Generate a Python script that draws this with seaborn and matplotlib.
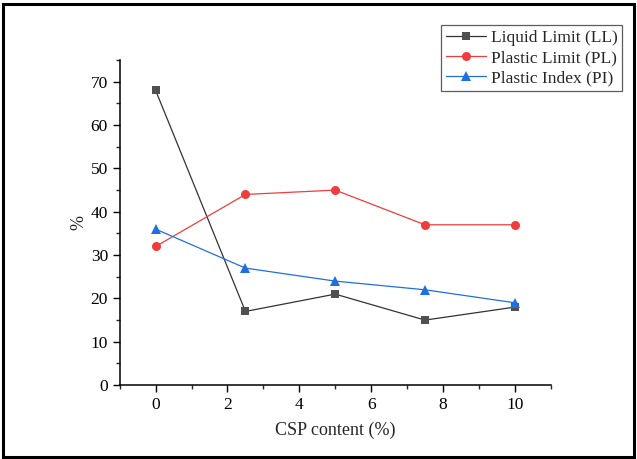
import matplotlib
matplotlib.use("Agg")
import matplotlib.pyplot as plt
import seaborn as sns
import pandas as pd
from matplotlib.ticker import MultipleLocator
from matplotlib.patches import Rectangle

csp = [0, 2.5, 5, 7.5, 10]
ll = [68, 17, 21, 15, 18]
pl = [32, 44, 45, 37, 37]
pi = [36, 27, 24, 22, 19]
names = ["Liquid Limit (LL)", "Plastic Limit (PL)", "Plastic Index (PI)"]

sns.set_style("ticks")
plt.rcParams['font.family'] = ['Liberation Serif', 'DejaVu Serif']
plt.rcParams['mathtext.fontset'] = 'stix'

df = pd.DataFrame({
    "x": csp * 3,
    "y": ll + pl + pi,
    "series": [names[0]] * 5 + [names[1]] * 5 + [names[2]] * 5,
})

fig = plt.figure(figsize=(6.37, 4.59), dpi=100)
ax = fig.add_axes([0.188, 0.161, 0.6765, 0.708])

palette = {names[0]: "#333333", names[1]: "#F03C3C", names[2]: "#1F6FDF"}
mfc = {names[0]: "#505050", names[1]: "#F03C3C", names[2]: "#1F6FDF"}
markers = {names[0]: "s", names[1]: "o", names[2]: "^"}
sns.lineplot(data=df, x="x", y="y", hue="series", style="series",
             palette=palette, markers=markers, dashes=False, ax=ax,
             linewidth=0.9, markersize=6.5, markeredgewidth=0, legend=False)

for line, n in zip(ax.lines, names):
    line.set_markerfacecolor(mfc[n])
    line.set_label(n)
ax.lines[0].set_markersize(6)

ax.set_xlim(-1, 11)
ax.set_ylim(0, 75)
ax.xaxis.set_major_locator(MultipleLocator(2))
ax.xaxis.set_minor_locator(MultipleLocator(1))
ax.yaxis.set_major_locator(MultipleLocator(10))
ax.yaxis.set_minor_locator(MultipleLocator(5))
ax.tick_params(which="major", direction="out", length=5, width=1, labelsize=12.5, colors="black")
ax.tick_params(which="minor", direction="out", length=3, width=1)
for s in ["top", "right"]:
    ax.spines[s].set_visible(False)
for s in ["left", "bottom"]:
    ax.spines[s].set_linewidth(1.1)
    ax.spines[s].set_color("black")

ax.set_xlabel("CSP content (%)", fontsize=13, labelpad=6)
ax.set_ylabel("%", fontsize=13, labelpad=2)

leg = fig.legend(handles=ax.lines, labels=names, loc="upper right",
                 bbox_to_anchor=(0.977, 0.945), fontsize=12.5, frameon=True,
                 fancybox=False, borderpad=0.28, handlelength=2.3,
                 handletextpad=0.3, labelspacing=0.22, borderaxespad=0)
leg.get_frame().set_edgecolor("#333333")
leg.get_frame().set_linewidth(0.9)

fig.patches.append(Rectangle((0.004, 0.004), 0.992, 0.988, transform=fig.transFigure,
                             fill=False, edgecolor="black", linewidth=2.2))

fig.savefig("out.png", dpi=100)
